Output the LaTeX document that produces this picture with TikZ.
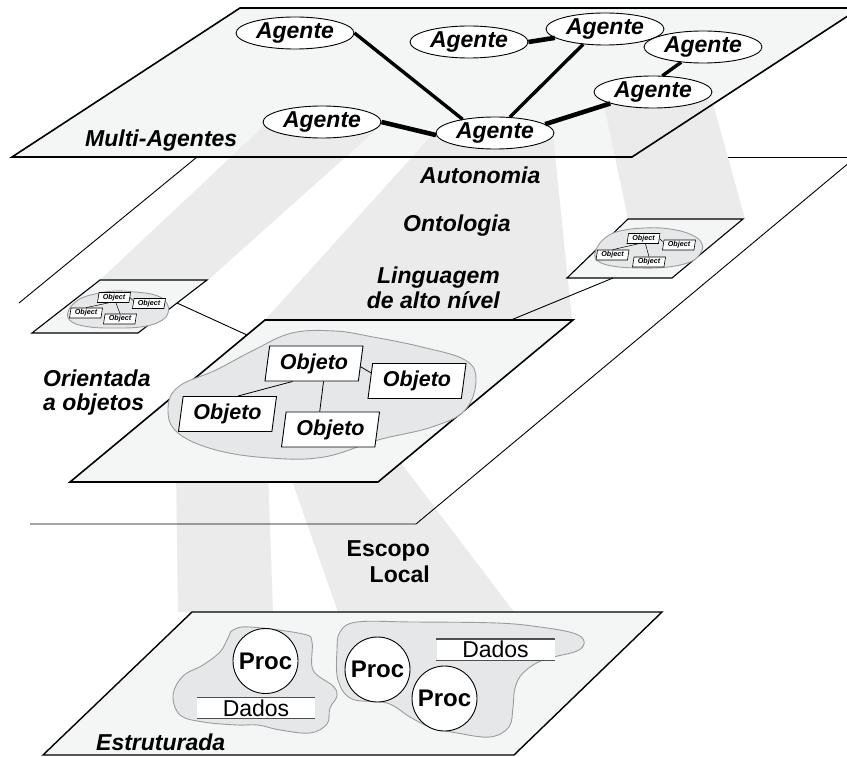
\documentclass[tikz,border=0pt]{standalone}
\usepackage{fontspec}
\setmainfont{Liberation Sans}
\newfontfamily\labfont{Liberation Sans}
\usetikzlibrary{shapes.geometric}

\definecolor{planefill}{HTML}{F4F5F5}
\definecolor{beamgray}{HTML}{EBEBEB}
\definecolor{cloudfill}{HTML}{E6E7E8}
\definecolor{cloudline}{HTML}{9C9C9C}
\definecolor{barline}{HTML}{505050}

\tikzset{
  plane/.style={fill=planefill, draw=black, line width=1.6pt, line join=miter},
  smallplane/.style={fill=planefill, draw=black, line width=1.1pt},
  planefillonly/.style={fill=planefill, draw=none},
  beam/.style={fill=beamgray, draw=none},
  frame/.style={draw=black, line width=0.9pt},
  zoomline/.style={draw=black, line width=0.9pt},
  agent/.style={ellipse, draw=black, line width=0.9pt, fill=white,
    minimum width=118pt, minimum height=32pt, inner sep=0pt,
    font=\labfont\bfseries\itshape\fontsize{23}{26}\selectfont},
  link/.style={line width=3.4pt},
  heavylink/.style={line width=4.6pt},
  cloudshape/.style={fill=cloudfill, draw=cloudline, line width=0.9pt},
  objbox/.style={trapezium, trapezium left angle=77, trapezium right angle=103,
    trapezium stretches body=true, draw=black, line width=0.9pt, fill=white,
    minimum height=35pt, minimum width=98pt, inner sep=0pt,
    font=\labfont\bfseries\itshape\fontsize{21.5}{24}\selectfont},
  tinybox/.style={trapezium, trapezium left angle=77, trapezium right angle=103,
    trapezium stretches body=true, draw=black, line width=0.6pt, fill=white,
    minimum height=10pt, minimum width=33pt, inner sep=0pt,
    font=\labfont\bfseries\itshape\fontsize{7.2}{8}\selectfont},
  tinylink/.style={line width=0.5pt},
  objlink/.style={line width=0.8pt},
  proc/.style={circle, draw=black, line width=0.9pt, fill=white,
    minimum size=65pt, inner sep=0pt,
    font=\labfont\bfseries\fontsize{24}{26}\selectfont},
  dados/.style={rectangle, fill=white, draw=none, minimum width=118pt,
    minimum height=21pt, inner sep=0pt,
    font=\labfont\fontsize{23}{26}\selectfont},
  bar/.style={draw=barline, line width=1.4pt},
  lab/.style={inner sep=0pt, font=\labfont\bfseries\itshape\fontsize{23}{25}\selectfont},
  uprightlab/.style={inner sep=0pt, font=\labfont\bfseries\fontsize{23}{26}\selectfont}
}

\begin{document}
\begin{tikzpicture}[x=1pt, y=-1pt]
\useasboundingbox (0,0) rectangle (847,757);
\clip (0,0) rectangle (847,757);
\fill[white] (0,0) rectangle (847,757);

% far edge of the large object-level plane (partly hidden by the beams)
\draw[frame] (632,157) -- (870,157);

% agent plane, fill only
\fill[planefillonly] (12,157) -- (632,157) -- (860,8) -- (240,8) -- cycle;

% projection beams between levels
\fill[beam] (265,125) -- (378,128) -- (208,280) -- (100,280) -- cycle;
\fill[beam] (432,135) -- (553,135) -- (572,320) -- (265,320) -- cycle;
\fill[beam] (603,100) -- (712,100) -- (745,219) -- (628,219) -- cycle;
\fill[beam] (176,470) -- (268,470) -- (273,612) -- (178,612) -- cycle;
\fill[beam] (283,455) -- (395,455) -- (514,612) -- (338,612) -- cycle;

% agent plane outline
\draw[plane, fill=none] (12,157) -- (632,157) -- (860,8) -- (240,8) -- cycle;

% remaining edges of the large object-level plane
\draw[frame] (197,157) -- (19,303);
\draw[frame] (30,524) -- (416,524) -- (862,152);

% small object planes
\draw[smallplane] (100,280) -- (207,280) -- (138,333) -- (32,333) -- cycle;
\draw[cloudshape] plot[smooth cycle, tension=0.7] coordinates {
  (68,312) (78,300) (95,294) (115,291) (135,292) (155,295) (166,302)
  (168,313) (159,322) (140,327) (115,328) (90,327) (72,322)};
\node[tinybox] (lt) at (114,297.5) {Object};
\node[tinybox] (lr) at (149,303.5) {Object};
\node[tinybox] (ll) at (86,313) {Object};
\node[tinybox] (lb) at (120,319) {Object};
\draw[tinylink] (lt.south west) -- (ll.north);
\draw[tinylink] (lt.290) -- (lb.north);
\draw[tinylink] (lt.east) -- (lr.170);

\draw[smallplane] (628,219) -- (743,219) -- (672,278) -- (567,278) -- cycle;
\draw[cloudshape] plot[smooth cycle, tension=0.7] coordinates {
  (596,250) (605,238) (620,231) (645,228) (670,229) (692,235) (702,244)
  (700,254) (690,262) (668,267) (640,268) (612,266) (597,260)};
\node[tinybox] (rt) at (643.5,238.5) {Object};
\node[tinybox] (rr) at (679,245) {Object};
\node[tinybox] (rl) at (612.5,255) {Object};
\node[tinybox] (rb) at (649,262) {Object};
\draw[tinylink] (rt.south west) -- (rl.north);
\draw[tinylink] (rt.290) -- (rb.north);
\draw[tinylink] (rt.east) -- (rr.170);

% object plane
\draw[plane] (265,320) -- (573,320) -- (378,482) -- (70,482) -- cycle;
\draw[cloudshape] plot[smooth cycle, tension=0.65] coordinates {
  (168,410) (178,387) (216,370) (254,350) (292,333) (335,331) (373,337)
  (422,347) (465,360) (476,380) (465,410) (432,427) (378,440) (324,457)
  (270,458) (216,450) (178,433)};
\node[objbox] (o1) at (314,363.5) {Objeto};
\node[objbox] (o2) at (417,381) {Objeto};
\node[objbox] (o3) at (227.5,414) {Objeto};
\node[objbox] (o4) at (330.5,429.5) {Objeto};
\draw[objlink] (o1.220) -- (o3.60);
\draw[objlink] (o1.298) -- (o4.121);
\draw[objlink] (o1.-4) -- (o2.170);

% lines tying the small planes to the object plane
\coordinate (lsmall) at (177,303);
\coordinate (lmid) at (247,335);
\coordinate (rsmall) at (613,278);
\coordinate (rmid) at (511,320);
\draw[zoomline] (lsmall) -- (lmid);
\draw[zoomline] (rsmall) -- (rmid);

% structured plane
\draw[plane, line width=1.4pt] (192,612) -- (662,612) -- (514,755) -- (43,755) -- cycle;
\draw[cloudshape] plot[smooth cycle, tension=0.6] coordinates {
  (228,638) (233,630) (250,627) (303,634) (312,642) (313,670) (333,686)
  (337,696) (330,708) (327,724) (310,733) (280,730) (258,725) (237,725)
  (203,722) (180,715) (173,695) (183,676) (203,665) (220,652)};
\draw[cloudshape] plot[smooth cycle, tension=0.6] coordinates {
  (340,632) (357,622) (413,622) (497,623) (540,627) (573,633) (584,641)
  (577,651) (543,660) (523,673) (515,688) (513,707) (509,727) (490,737)
  (457,733) (430,727) (410,717) (387,703) (352,699) (338,680) (337,650)};
\node[proc] (p1) at (265.5,661) {Proc};
\node[proc] (p2) at (377.5,669.5) {Proc};
\node[proc] (p3) at (444.5,698.5) {Proc};
\node[dados] (d1) at (256,708) {Dados};
\node[dados] (d2) at (495.5,649.5) {Dados};
\draw[bar] (d1.north west) -- (d1.north east);
\draw[bar] (d1.south west) -- (d1.south east);
\draw[bar] (d2.north west) -- (d2.north east);
\draw[bar] (d2.south west) -- (d2.south east);

% agents and their links
\node[agent] (a1) at (295,33) {Agente};
\node[agent] (a2) at (469,42) {Agente};
\node[agent] (a3) at (605,29) {Agente};
\node[agent] (a4) at (703,47) {Agente};
\node[agent] (a5) at (653,92) {Agente};
\node[agent] (a6) at (322,122) {Agente};
\node[agent] (a7) at (495,133) {Agente};
\draw[link] (a1.east) -- (a7.157);
\draw[heavylink] (a2.east) -- (a3.190);
\draw[link] (a3.215) -- (a7.47);
\draw[link] (a4.215) -- (a5.60);
\draw[heavylink] (a5.195) -- (a7.10);
\draw[heavylink] (a6.east) -- (a7.182);

% level labels
\node[lab, anchor=base west] (lma) at (85,147) {Multi-Agentes};
\node[lab, anchor=base west] (lau) at (420,184) {Autonomia};
\node[lab, anchor=base west] (lon) at (403,232) {Ontologia};
\node[lab, anchor=north east, align=right] (lli) at (500,266.5) {Linguagem\\de alto nível};
\node[lab, anchor=north west, align=left, font=\labfont\bfseries\itshape\fontsize{23}{24}\selectfont] (lor) at (43,370) {Orientada\\a objetos};
\node[uprightlab, anchor=north east, align=right] (les) at (430,540.5) {Escopo\\Local};
\node[lab, anchor=base west] (lst) at (96,750) {Estruturada};
\end{tikzpicture}
\end{document}
